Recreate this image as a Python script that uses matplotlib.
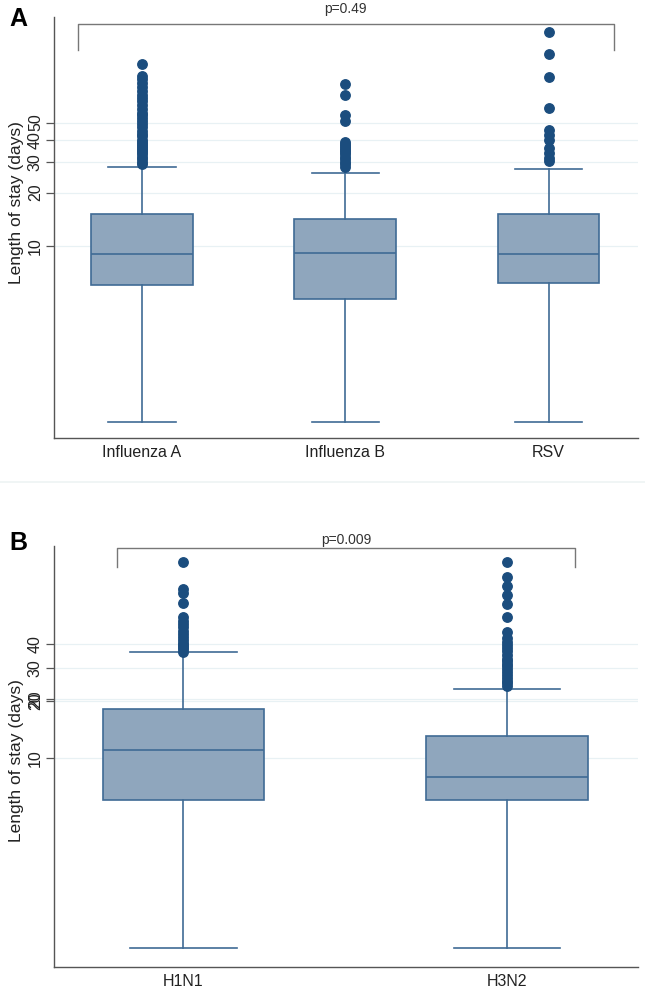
import matplotlib
matplotlib.use("Agg")
import matplotlib.pyplot as plt
from matplotlib.lines import Line2D
import matplotlib.transforms as mtransforms

plt.rcParams['font.family'] = ['Liberation Sans', 'DejaVu Sans']

# ---------------- data (length of stay, days) ----------------
cats_a = ['Influenza A', 'Influenza B', 'RSV']
whislo_a = [1.0, 1.0, 1.0]
q1_a = [6.0, 5.0, 6.1]
med_a = [9.0, 9.05, 9.0]
q3_a = [15.1, 14.1, 15.1]
whishi_a = [28.0, 26.0, 27.2]
fliers_flu_a = [29, 30, 31, 32, 33, 34, 35, 36, 37, 38, 39, 40, 42, 43, 45, 47, 49, 51,
                53, 55, 57, 60, 63, 66, 69, 72, 76, 80, 84, 88, 92, 108]
fliers_flu_b = [28, 29, 30, 31, 32, 33, 34, 35, 36, 37, 38, 39, 51, 55, 72, 83]
fliers_rsv = [30.3, 31.5, 33.6, 35.9, 39.8, 42.5, 45.4, 60.4, 91, 122, 163]
p_a = 'p=0.49'

cats_b = ['H1N1', 'H3N2']
whislo_b = [1.0, 1.0]
q1_b = [6.0, 6.0]
med_b = [11.0, 8.0]
q3_b = [18.1, 13.1]
whishi_b = [36.1, 23.2]
fliers_h1n1 = [36.4, 37.5, 38.5, 39.5, 40.5, 42, 43.5, 45, 47, 49, 51, 53, 55.6,
               66, 74, 78, 107.5]
fliers_h3n2 = [24, 24.8, 25.6, 26.5, 27.5, 28.5, 29.5, 30.5, 31.5, 32.5, 33.5, 35,
               36.5, 38, 39.5, 41, 43, 46.2, 55.4, 64.9, 72.3, 80.7, 90, 107.5]
p_b = 'p=0.009'

yticks_a = [10, 20, 30, 40, 50]
yticklabels_a = ['10', '20', '30', '40', '50']
yticks_b = [10, 20, 20.4, 30, 40]
yticklabels_b = ['10', '20', '20', '30', '40']

# ---------------- style ----------------
FILL = '#8fa6bd'
EDGE = '#3f6b95'
DOT = '#1b4d7e'
GRID = '#e8f1f4'
AX = '#555555'

W, H = 645, 997
fig = plt.figure(figsize=(W / 100, H / 100), dpi=100)


def px_axes(left, right, top, bottom):
    return fig.add_axes([left / W, 1 - bottom / H, (right - left) / W, (bottom - top) / H])


def panel(ax, cats, lo, q1, med, q3, hi, fliers, xlim, ylim, yt, ytl, ptxt,
          br_x, br_y, txt_y, letter, letter_y, ylab_y):
    stats = []
    for i, c in enumerate(cats):
        stats.append(dict(label=c, whislo=lo[i], q1=q1[i], med=med[i], q3=q3[i],
                          whishi=hi[i], fliers=fliers[i]))
    ax.set_yscale('log')
    for t in yt:
        ax.axhline(t, color=GRID, lw=0.9, zorder=0)
    ax.bxp(stats, positions=range(1, len(cats) + 1), widths=0.5, patch_artist=True,
           capwidths=0.33,
           boxprops=dict(facecolor=FILL, edgecolor=EDGE, linewidth=1.2),
           medianprops=dict(color=EDGE, linewidth=1.2),
           whiskerprops=dict(color=EDGE, linewidth=1.2),
           capprops=dict(color=EDGE, linewidth=1.2),
           flierprops=dict(marker='o', markerfacecolor=DOT, markeredgecolor=DOT,
                           markersize=6.8, linestyle='none'))
    ax.set_xlim(*xlim)
    ax.set_ylim(*ylim)
    ax.set_yticks(yt)
    ax.set_yticklabels(ytl, rotation=90, va='center', fontsize=11.5)
    ax.yaxis.set_minor_locator(matplotlib.ticker.NullLocator())
    ax.set_xticks(range(1, len(cats) + 1))
    ax.set_xticklabels(cats, fontsize=11.5)
    ax.tick_params(axis='x', length=0, pad=5, colors='#222222')
    ax.tick_params(axis='y', length=6, width=0.9, color=AX, pad=2, labelcolor='#222222')
    for s in ['top', 'right']:
        ax.spines[s].set_visible(False)
    for s in ['left', 'bottom']:
        ax.spines[s].set_color(AX)
        ax.spines[s].set_linewidth(1.0)
    ax.set_ylabel('Length of stay (days)', fontsize=12.5, color='#222222')
    ax.yaxis.set_label_coords(-0.052, ylab_y)
    trans = mtransforms.blended_transform_factory(ax.transData, ax.transAxes)
    ax.add_line(Line2D([br_x[0], br_x[0], br_x[1], br_x[1]],
                       [br_y[1], br_y[0], br_y[0], br_y[1]],
                       transform=trans, color='#777777', lw=1.0, clip_on=False))
    ax.text((br_x[0] + br_x[1]) / 2, txt_y, ptxt, transform=trans, ha='center',
            va='center', fontsize=10, color='#333333', clip_on=False)
    fig.text(18 / W, 1 - letter_y / H, letter, fontsize=18,
             fontweight='bold', ha='center', va='center')


ax1 = px_axes(54, 638, 17, 438.3)
panel(ax1, cats_a, whislo_a, q1_a, med_a, q3_a, whishi_a,
      [fliers_flu_a, fliers_flu_b, fliers_rsv], (0.567, 3.44), (0.805, 199),
      yticks_a, yticklabels_a, p_a, (0.684, 3.32), (0.983, 0.922), 1.019, 'A', 19, 0.56)

ax2 = px_axes(54, 638, 545.7, 966.7)
panel(ax2, cats_b, whislo_b, q1_b, med_b, q3_b, whishi_b,
      [fliers_h1n1, fliers_h3n2], (0.6, 2.405), (0.8, 131.5),
      yticks_b, yticklabels_b, p_b, (0.794, 2.21), (0.994, 0.95), 1.014, 'B', 543, 0.49)

# faint separator between panels
fig.add_artist(Line2D([0, 1], [1 - 482 / H, 1 - 482 / H], transform=fig.transFigure,
                      color='#eef3f3', lw=1.2))

fig.savefig('out.png', dpi=100)
